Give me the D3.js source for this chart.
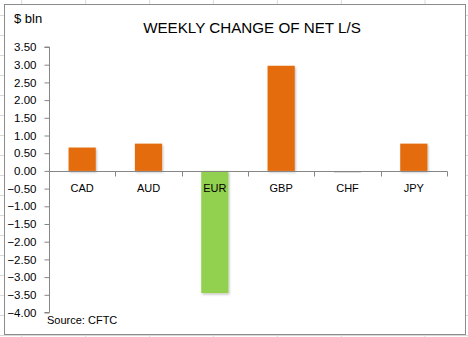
<!DOCTYPE html>
<html><head><meta charset="utf-8">
<script src="https://cdn.jsdelivr.net/npm/d3@7"></script>
<style>body{margin:0;background:#fff}svg{display:block}</style>
</head><body>
<svg id="c" width="468" height="337"></svg>
<script>
const categories = ["CAD","AUD","EUR","GBP","CHF","JPY"];
const values = [0.66, 0.77, -3.45, 2.97, -0.06, 0.77];
const barColors = ["#E46C0A","#E46C0A","#92D050","#E46C0A","#DCDCDC","#E46C0A"];
const yTicks = [3.5,3.0,2.5,2.0,1.5,1.0,0.5,0,-0.5,-1.0,-1.5,-2.0,-2.5,-3.0,-3.5,-4.0];
const gridCols = [21.7,85.7,149.7,213.3,277.3,341.3,425];
const gridRows = [15,35,55,75,95,115,135,155,175,195,215,235,255,275,295,315,335];

const svg = d3.select("#c");
const font = "'Liberation Sans', Arial, sans-serif";

// spreadsheet gridlines
svg.selectAll(".gc").data(gridCols).join("line")
  .attr("x1",d=>d).attr("x2",d=>d).attr("y1",0).attr("y2",337)
  .attr("stroke","#d9d9d9").attr("stroke-width",1);
svg.selectAll(".gr").data(gridRows).join("line")
  .attr("y1",d=>d+0.5).attr("y2",d=>d+0.5).attr("x1",0).attr("x2",468)
  .attr("stroke","#d9d9d9").attr("stroke-width",1);

// chart area
svg.append("rect").attr("x",4.5).attr("y",4.5).attr("width",461).attr("height",330)
  .attr("fill","#fff").attr("stroke","#8c8c8c").attr("stroke-width",1);

const x = d3.scaleBand().domain(categories).range([49,447]).paddingInner(0.59).paddingOuter(0.295);
const y = d3.scaleLinear().domain([-4,3.5]).range([312.5,47]);

// shadow
svg.append("defs").append("filter").attr("id","sh").attr("x","-20%").attr("y","-20%").attr("width","150%").attr("height","150%")
  .html('<feDropShadow dx="1" dy="1.5" stdDeviation="1" flood-color="#000" flood-opacity="0.25"/>');

// y axis
const yAxis = d3.axisLeft(y).tickValues(yTicks).tickFormat(d3.format(".2f")).tickSize(5).tickPadding(8);
const ya = svg.append("g").attr("transform","translate(49.5,0)").call(yAxis);
ya.select(".domain").attr("stroke","#868686").attr("d","M-5,"+y(3.5)+"H0V"+y(-4)+"H-5");
ya.selectAll(".tick line").attr("stroke","#868686");
ya.selectAll(".tick text").attr("font-family",font).attr("font-size",11.5).attr("fill","#000");

// bars
svg.selectAll(".bar").data(values).join("rect")
  .attr("x",(d,i)=>x(categories[i]))
  .attr("width",x.bandwidth())
  .attr("y",d=>y(Math.max(0,d)))
  .attr("height",d=>Math.abs(y(d)-y(0)))
  .attr("fill",(d,i)=>barColors[i])
  .attr("filter",(d,i)=>i===4?null:"url(#sh)");

// x axis
const xa = svg.append("g").attr("transform","translate(0,"+(Math.round(y(0))+0.5)+")");
xa.append("line").attr("x1",49).attr("x2",447.5).attr("stroke","#868686");
const bounds = [49].concat(categories.map(c=>x(c)+x.bandwidth()+x.step()*0.295));
xa.selectAll(".xt").data(bounds).join("line")
  .attr("x1",d=>Math.round(d)+0.5).attr("x2",d=>Math.round(d)+0.5).attr("y1",0).attr("y2",5)
  .attr("stroke","#868686");
xa.selectAll(".xl").data(categories).join("text")
  .attr("x",d=>x(d)+x.bandwidth()/2).attr("y",17)
  .attr("dy","0.35em").attr("text-anchor","middle")
  .attr("font-family",font).attr("font-size",11).attr("fill","#000").text(d=>d);

// texts
svg.append("text").attr("x",252).attr("y",33).attr("text-anchor","middle")
  .attr("font-family",font).attr("font-size",15.2).attr("fill","#000").text("WEEKLY CHANGE OF NET L/S");
svg.append("text").attr("x",14).attr("y",23)
  .attr("font-family",font).attr("font-size",13).attr("fill","#000").text("$ bln");
svg.append("text").attr("x",47).attr("y",324)
  .attr("font-family",font).attr("font-size",11).attr("fill","#000").text("Source: CFTC");
</script>
</body></html>
